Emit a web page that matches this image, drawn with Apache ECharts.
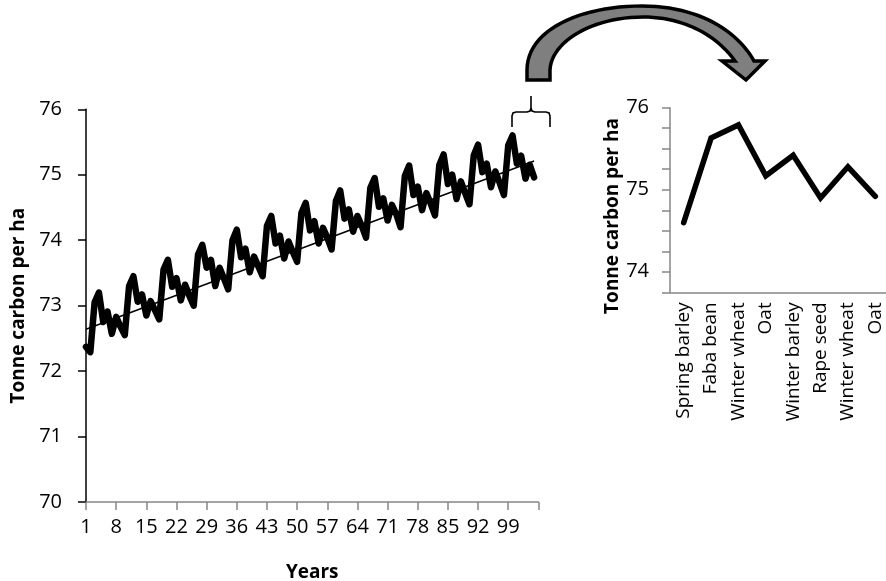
<!DOCTYPE html>
<html>
<head>
<meta charset="utf-8">
<script src="https://cdn.jsdelivr.net/npm/echarts@6/dist/echarts.min.js"></script>
<style>
html,body{margin:0;padding:0;background:#fff;}
#chart{width:886px;height:581px;}
</style>
</head>
<body>
<div id="chart"></div>
<script>
// ---- Data ----
const years = [];
for (let i = 1; i <= 106; i++) years.push(String(i));

const carbonByYear = [
  72.37, 72.29, 73.05, 73.20, 72.75, 72.91, 72.57, 72.83, 72.68,
  72.55, 73.30, 73.45, 73.06, 73.17, 72.85, 73.07, 72.93,
  72.79, 73.55, 73.70, 73.29, 73.42, 73.08, 73.32, 73.15,
  73.00, 73.78, 73.93, 73.58, 73.70, 73.30, 73.58, 73.42,
  73.25, 74.00, 74.16, 73.74, 73.87, 73.51, 73.75, 73.60,
  73.45, 74.22, 74.37, 73.95, 74.07, 73.72, 73.98, 73.82,
  73.67, 74.42, 74.57, 74.15, 74.29, 73.95, 74.19, 74.04,
  73.86, 74.60, 74.76, 74.33, 74.47, 74.13, 74.37, 74.22,
  74.04, 74.80, 74.95, 74.51, 74.64, 74.30, 74.54, 74.40,
  74.20, 74.98, 75.14, 74.69, 74.82, 74.46, 74.72, 74.56,
  74.38, 75.15, 75.31, 74.86, 75.00, 74.63, 74.90, 74.72,
  74.55, 75.30, 75.46, 75.04, 75.17, 74.81, 75.05, 74.88,
  74.69, 75.45, 75.60, 75.17, 75.29, 74.94, 75.15, 74.96
];

// linear trend line as drawn in the picture: [year, value] at its two ends
const trendYears = ['1', '105'];
const trendValues = [72.64, 75.21];

const crops = ['Spring barley', 'Faba bean', 'Winter wheat', 'Oat', 'Winter barley', 'Rape seed', 'Winter wheat', 'Oat'];
const rotationValues = [74.60, 75.63, 75.79, 75.17, 75.42, 74.90, 75.28, 74.92];

const leftYTicks = [70, 71, 72, 73, 74, 75, 76];

// ---- decoration helpers (arrow outline from cubic curves) ----
function cubic(p0, p1, p2, p3, steps) {
  const out = [];
  for (let i = 0; i <= steps; i++) {
    const t = i / steps, u = 1 - t;
    out.push([
      u*u*u*p0[0] + 3*u*u*t*p1[0] + 3*u*t*t*p2[0] + t*t*t*p3[0],
      u*u*u*p0[1] + 3*u*u*t*p1[1] + 3*u*t*t*p2[1] + t*t*t*p3[1]
    ]);
  }
  return out;
}
const arrowPts = [].concat(
  [[527, 80]],
  cubic([527, 70], [527, 30], [580, 6], [642, 6], 24),
  cubic([642, 6], [700, 6], [738, 32], [754, 61], 24).slice(1),
  [[765, 61], [746, 80], [722, 61]],
  cubic([735, 61], [718, 37], [686, 17], [643, 17], 24),
  cubic([643, 17], [592, 17], [551, 42], [550, 70], 24).slice(1),
  [[550, 80]]
);

const FONT = 'Open Sans';

const chart = echarts.init(document.getElementById('chart'), null, { renderer: 'canvas' });
chart.setOption({
  animation: false,
  backgroundColor: '#fff',
  textStyle: { fontFamily: FONT },
  grid: [
    { left: 86, top: 109.3, width: 452.4, height: 392.7, outerBoundsMode: 'none', containLabel: false },
    { left: 670, top: 107.7, right: -3, height: 184.6, outerBoundsMode: 'none', containLabel: false }
  ],
  xAxis: [
    {
      gridIndex: 0, type: 'category', data: years, boundaryGap: false,
      name: 'Years', nameLocation: 'middle', nameGap: 61,
      nameTextStyle: { fontFamily: FONT, fontSize: 19, fontWeight: 'bold', color: '#000' },
      axisLine: { lineStyle: { color: '#868686', width: 1.5 } },
      axisTick: { interval: 6, length: 8, lineStyle: { color: '#868686', width: 1.5 } },
      axisLabel: { interval: 6, margin: 15, fontFamily: FONT, fontSize: 20, color: '#000',
        formatter: v => (v === '106' ? '' : v) },
      splitLine: { show: false }
    },
    {
      gridIndex: 1, type: 'category', data: crops, boundaryGap: true,
      axisLine: { lineStyle: { color: '#868686', width: 1.5 } },
      axisTick: { length: 8, lineStyle: { color: '#868686', width: 1.5 } },
      axisLabel: { rotate: 90, interval: 0, margin: 10, fontFamily: FONT, fontSize: 19, color: '#000' },
      splitLine: { show: false }
    }
  ],
  yAxis: [
    {
      gridIndex: 0, type: 'value', min: leftYTicks[0], max: leftYTicks[leftYTicks.length - 1], interval: 1,
      name: 'Tonne carbon per ha', nameLocation: 'middle', nameGap: 56,
      nameTextStyle: { fontFamily: FONT, fontSize: 19, fontWeight: 'bold', color: '#000' },
      axisLine: { show: true, lineStyle: { color: '#000', width: 1.5 } },
      axisTick: { show: true, length: 8, lineStyle: { color: '#000', width: 1.5 } },
      axisLabel: { margin: 24, fontFamily: FONT, fontSize: 20, color: '#000' },
      splitLine: { show: false }
    },
    {
      gridIndex: 1, type: 'value', min: 73.75, max: 76, interval: 0.25,
      name: 'Tonne carbon per ha', nameLocation: 'middle', nameGap: 44,
      nameTextStyle: { fontFamily: FONT, fontSize: 19, fontWeight: 'bold', color: '#000', padding: [0, 32, 0, 0] },
      axisLine: { show: true, lineStyle: { color: '#868686', width: 1.5 } },
      axisTick: { show: true, length: 8, lineStyle: { color: '#868686', width: 1.5 } },
      axisLabel: { margin: 21, fontFamily: FONT, fontSize: 20, color: '#000',
        formatter: v => (Math.abs(v - Math.round(v)) < 1e-9 ? String(Math.round(v)) : '') },
      splitLine: { show: false }
    }
  ],
  series: [
    {
      name: 'Carbon', type: 'line', xAxisIndex: 0, yAxisIndex: 0,
      data: carbonByYear, showSymbol: false, symbol: 'none',
      lineStyle: { color: '#000', width: 6.5, cap: 'round', join: 'round' },
      z: 2
    },
    {
      name: 'Trend', type: 'line', xAxisIndex: 0, yAxisIndex: 0,
      data: trendYears.map((y, i) => [y, trendValues[i]]), showSymbol: false, symbol: 'none',
      lineStyle: { color: '#000', width: 1.5 },
      z: 3
    },
    {
      name: 'Rotation', type: 'line', xAxisIndex: 1, yAxisIndex: 1,
      data: rotationValues, showSymbol: false, symbol: 'none',
      lineStyle: { color: '#000', width: 5.5, cap: 'round', join: 'miter' }
    }
  ],
  graphic: [
    {
      type: 'polyline',
      shape: { points: [[512, 127], [512, 116], [513, 113], [516, 112], [527, 112], [530, 111], [531, 108], [531, 96]] },
      style: { fill: null, stroke: '#000', lineWidth: 1.6 }
    },
    {
      type: 'polyline',
      shape: { points: [[531, 108], [532, 111], [535, 112], [546, 112], [549, 113], [550, 116], [550, 127]] },
      style: { fill: null, stroke: '#000', lineWidth: 1.6 }
    },
    {
      type: 'polygon',
      shape: { points: arrowPts },
      style: { fill: '#7f7f7f', stroke: '#000', lineWidth: 3.5, lineJoin: 'miter' }
    }
  ]
});
</script>
</body>
</html>
